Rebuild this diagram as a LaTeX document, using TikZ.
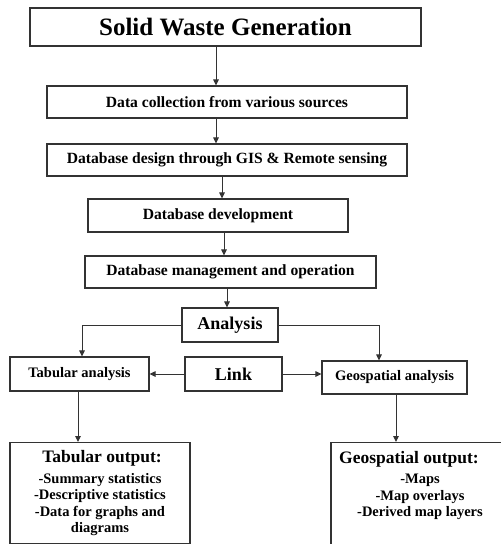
\documentclass[tikz,border=0pt]{standalone}
\usepackage{fontspec}
\setmainfont{Liberation Serif}
\usetikzlibrary{arrows.meta}
\definecolor{edge}{HTML}{333333}
\tikzset{
  box/.style={draw=edge, line width=1.1pt, fill=white, inner sep=0pt, align=center, font=\bfseries},
  arr/.style={draw=edge, line width=1pt, -{Triangle[length=6pt,width=5.5pt]}},
  midtext/.style={font=\bfseries\fontsize{15.6}{17}\selectfont},
  smalltext/.style={font=\bfseries\fontsize{14.5}{16}\selectfont},
  listtext/.style={font=\bfseries\fontsize{14.5}{16.5}\selectfont, align=center, anchor=north, inner sep=0pt},
  titletext/.style={font=\bfseries\fontsize{17.5}{18}\selectfont, anchor=north, inner sep=0pt},
}
\begin{document}
\begin{tikzpicture}[x=1pt,y=-1pt]
\useasboundingbox (0,0) rectangle (501,544);
\node[box, minimum width=391pt, minimum height=38pt, font=\bfseries\fontsize{25}{27}\selectfont] (b1) at (225.5,27) {Solid Waste Generation};
\node[box, midtext, minimum width=360pt, minimum height=32pt] (b2) at (227,102) {Data collection from various sources};
\node[box, midtext, minimum width=360pt, minimum height=32pt] (b3) at (227,160) {Database design through GIS \& Remote sensing};
\node[box, midtext, minimum width=260pt, minimum height=33pt] (b4) at (218,215.5) {Database development};
\node[box, midtext, minimum width=291pt, minimum height=32pt] (b5) at (230.5,272) {Database management and operation};
\node[box, minimum width=96pt, minimum height=34pt, font=\bfseries\fontsize{18}{20}\selectfont] (an) at (230,325) {Analysis};
\node[box, smalltext, minimum width=139pt, minimum height=34pt] (ta) at (79.5,374) {Tabular analysis};
\node[box, minimum width=97pt, minimum height=34pt, font=\bfseries\fontsize{18}{20}\selectfont] (lk) at (233.5,374) {Link};
\node[box, smalltext, minimum width=145pt, minimum height=33pt] (ga) at (394.5,377.5) {Geospatial analysis};
\node[box, minimum width=180pt, minimum height=101pt, anchor=north] (to) at (100,442) {};
\node[box, minimum width=178pt, minimum height=106pt, anchor=north] (go) at (420,442) {};
\node[titletext] (tot) at (102,450) {Tabular output:};
\node[listtext] (tol) at (100,473) {-Summary statistics\\-Descriptive statistics\\-Data for graphs and\\diagrams};
\node[titletext] (got) at (409,451) {Geospatial output:};
\node[listtext] (gol) at (420,474) {-Maps\\-Map overlays\\-Derived map layers};
\draw[arr] ([xshift=-9.5pt]b1.south) -- ([xshift=-11pt]b2.north);
\draw[arr] ([xshift=-11pt]b2.south) -- ([xshift=-11pt]b3.north);
\draw[arr] ([xshift=-5pt]b3.south) -- ([xshift=4pt]b4.north);
\draw[arr] ([xshift=6pt]b4.south) -- ([xshift=-6.5pt]b5.north);
\draw[arr] ([xshift=-3.5pt]b5.south) -- ([xshift=-3pt]an.north);
\draw[arr] (an.west) -| ([xshift=2.5pt]ta.north);
\draw[arr] (an.east) -| ([xshift=-15.5pt]ga.north);
\draw[arr] (lk.west) -- (ta.east);
\draw[arr] (lk.east) -- (lk.east -| ga.west);
\draw[arr] ([xshift=-1.5pt]ta.south) -- ([xshift=-1.5pt]ta.south |- to.north);
\draw[arr] ([xshift=1.5pt]ga.south) -- ([xshift=1.5pt]ga.south |- go.north);
\end{tikzpicture}
\end{document}
